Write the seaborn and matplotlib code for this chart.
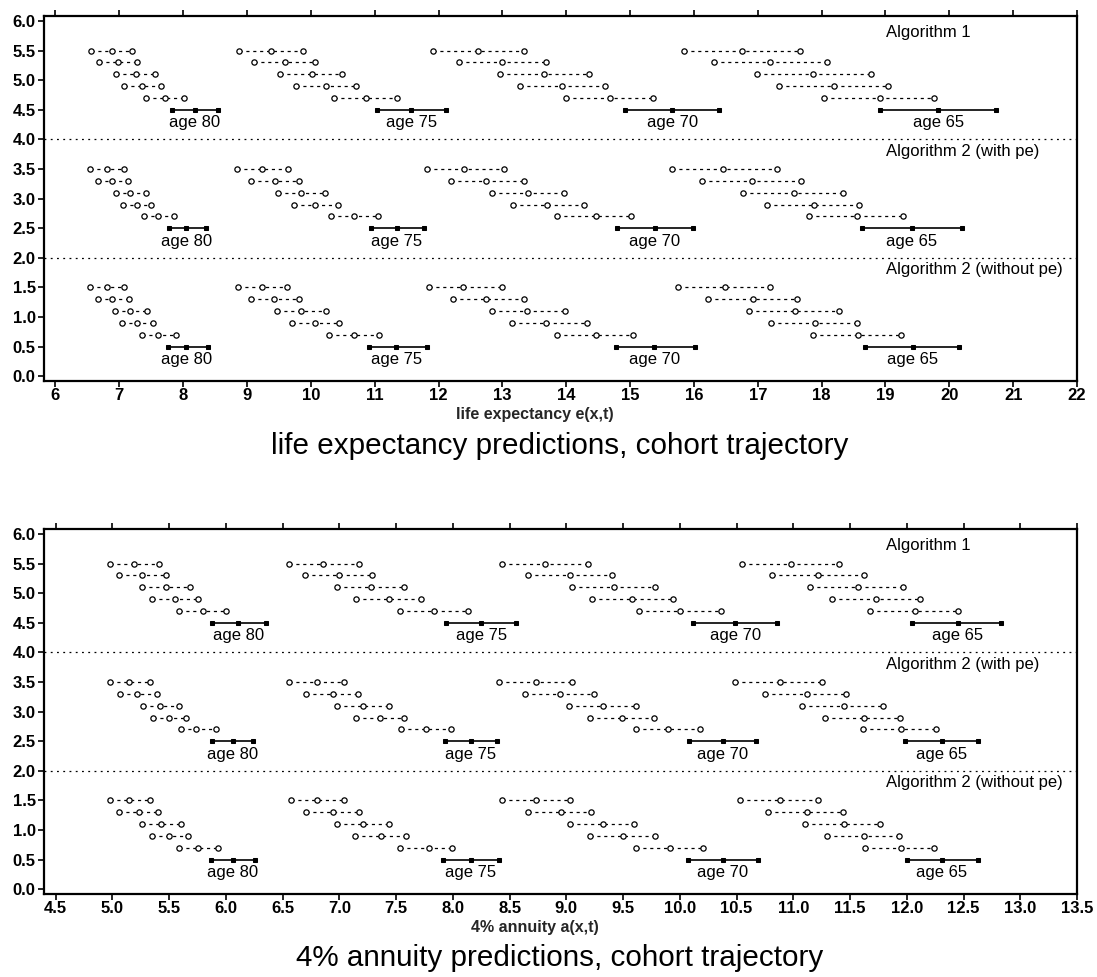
import numpy as np
import pandas as pd
import matplotlib
matplotlib.use("Agg")
import matplotlib.pyplot as plt
import matplotlib.transforms as mtransforms
import seaborn as sns

# ---------------- data ----------------
algorithms = ["Algorithm 1", "Algorithm 2 (with pe)", "Algorithm 2 (without pe)"]
ages = ["age 80", "age 75", "age 70", "age 65"]

# each block: 5 forecast rows (low, mid, high) followed by the current-year row
le_alg1 = [
    [(6.56, 6.88, 7.20), (6.68, 6.98, 7.28), (6.95, 7.26, 7.56), (7.07, 7.36, 7.65), (7.41, 7.72, 8.02), (7.83, 8.18, 8.55)],
    [(8.88, 9.37, 9.88), (9.11, 9.59, 10.07), (9.52, 10.01, 10.49), (9.77, 10.23, 10.71), (10.37, 10.86, 11.35), (11.03, 11.57, 12.12)],
    [(11.92, 12.62, 13.34), (12.32, 12.99, 13.68), (12.96, 13.65, 14.35), (13.28, 13.94, 14.60), (14.00, 14.69, 15.36), (14.92, 15.66, 16.40)],
    [(15.84, 16.75, 17.66), (16.32, 17.19, 18.09), (16.99, 17.87, 18.77), (17.34, 18.20, 19.04), (18.04, 18.91, 19.76), (18.92, 19.83, 20.73)],
]
le_alg2_pe = [
    [(6.54, 6.81, 7.07), (6.66, 6.89, 7.14), (6.94, 7.17, 7.42), (7.05, 7.28, 7.50), (7.38, 7.61, 7.86), (7.78, 8.05, 8.35)],
    [(8.84, 9.24, 9.64), (9.07, 9.44, 9.81), (9.48, 9.85, 10.22), (9.73, 10.07, 10.43), (10.31, 10.68, 11.05), (10.94, 11.35, 11.77)],
    [(11.82, 12.40, 13.02), (12.20, 12.75, 13.34), (12.84, 13.40, 13.97), (13.16, 13.70, 14.28), (13.85, 14.47, 15.02), (14.80, 15.39, 15.98)],
    [(15.65, 16.46, 17.30), (16.13, 16.91, 17.68), (16.77, 17.56, 18.34), (17.14, 17.88, 18.59), (17.81, 18.55, 19.28), (18.64, 19.41, 20.20)],
]
le_alg2_nope = [
    [(6.54, 6.81, 7.08), (6.66, 6.89, 7.15), (6.93, 7.17, 7.44), (7.04, 7.28, 7.52), (7.36, 7.61, 7.88), (7.76, 8.05, 8.39)],
    [(8.86, 9.24, 9.63), (9.07, 9.43, 9.82), (9.47, 9.85, 10.23), (9.71, 10.07, 10.44), (10.29, 10.67, 11.07), (10.91, 11.34, 11.82)],
    [(11.85, 12.39, 12.99), (12.23, 12.75, 13.34), (12.84, 13.39, 13.98), (13.15, 13.68, 14.32), (13.85, 14.47, 15.05), (14.78, 15.38, 16.01)],
    [(15.75, 16.48, 17.19), (16.22, 16.93, 17.61), (16.87, 17.58, 18.27), (17.21, 17.90, 18.55), (17.87, 18.57, 19.25), (18.68, 19.43, 20.15)],
]

an_alg1 = [
    [(4.98, 5.19, 5.41), (5.06, 5.26, 5.47), (5.26, 5.47, 5.68), (5.35, 5.55, 5.75), (5.59, 5.80, 6.00), (5.88, 6.11, 6.35)],
    [(6.56, 6.86, 7.17), (6.70, 7.00, 7.29), (6.98, 7.28, 7.57), (7.15, 7.44, 7.72), (7.53, 7.83, 8.13), (7.94, 8.25, 8.56)],
    [(8.43, 8.81, 9.19), (8.66, 9.03, 9.40), (9.05, 9.42, 9.78), (9.23, 9.58, 9.94), (9.64, 10.00, 10.36), (10.12, 10.49, 10.86)],
    [(10.55, 10.98, 11.40), (10.81, 11.22, 11.62), (11.15, 11.57, 11.97), (11.34, 11.73, 12.12), (11.68, 12.07, 12.45), (12.05, 12.45, 12.83)],
]
an_alg2_pe = [
    [(4.98, 5.15, 5.33), (5.07, 5.22, 5.39), (5.27, 5.42, 5.59), (5.36, 5.50, 5.65), (5.60, 5.74, 5.91), (5.88, 6.06, 6.24)],
    [(6.56, 6.80, 7.04), (6.71, 6.94, 7.16), (6.98, 7.21, 7.44), (7.15, 7.36, 7.57), (7.54, 7.76, 7.98), (7.93, 8.16, 8.39)],
    [(8.41, 8.73, 9.05), (8.64, 8.94, 9.24), (9.02, 9.32, 9.61), (9.21, 9.49, 9.77), (9.61, 9.90, 10.18), (10.08, 10.38, 10.67)],
    [(10.49, 10.88, 11.25), (10.75, 11.12, 11.46), (11.08, 11.45, 11.79), (11.28, 11.62, 11.94), (11.61, 11.95, 12.26), (11.98, 12.31, 12.63)],
]
an_alg2_nope = [
    [(4.98, 5.15, 5.33), (5.06, 5.23, 5.40), (5.26, 5.43, 5.60), (5.35, 5.50, 5.67), (5.59, 5.75, 5.93), (5.87, 6.06, 6.26)],
    [(6.57, 6.80, 7.04), (6.71, 6.94, 7.17), (6.98, 7.21, 7.44), (7.14, 7.37, 7.59), (7.53, 7.79, 7.99), (7.91, 8.16, 8.41)],
    [(8.43, 8.73, 9.03), (8.66, 8.95, 9.22), (9.03, 9.32, 9.60), (9.21, 9.50, 9.78), (9.61, 9.91, 10.20), (10.07, 10.38, 10.69)],
    [(10.53, 10.88, 11.22), (10.78, 11.12, 11.44), (11.10, 11.45, 11.76), (11.30, 11.62, 11.93), (11.63, 11.95, 12.24), (12.00, 12.31, 12.63)],
]

le_xticks = list(range(6, 23))
an_xticks = [4.5 + 0.5 * i for i in range(19)]
y_ticks = [0.5 * i for i in range(13)]

panels = [
    dict(blocks=[le_alg1, le_alg2_pe, le_alg2_nope], xticks=le_xticks, xfmt="{:.0f}",
         xlim=(5.82, 22.0), xlabel="life expectancy e(x,t)",
         title="life expectancy predictions, cohort trajectory"),
    dict(blocks=[an_alg1, an_alg2_pe, an_alg2_nope], xticks=an_xticks, xfmt="{:.1f}",
         xlim=(4.397, 13.5), xlabel="4% annuity a(x,t)",
         title="4% annuity predictions, cohort trajectory"),
]


def build_df(blocks_by_alg):
    recs = []
    for a, blocks in enumerate(blocks_by_alg):
        base = 5.5 - 2 * a
        for g, rows in enumerate(blocks):
            for r, triple in enumerate(rows):
                y = base - 0.2 * r
                kind = "current" if r == len(rows) - 1 else "forecast"
                for x in triple:
                    recs.append(dict(x=x, y=y, row=f"{a}-{g}-{r}", kind=kind, alg=a, age=g))
    return pd.DataFrame(recs)


# ---------------- drawing ----------------
sns.set_theme(style="ticks")
plt.rcParams["font.family"] = ["Liberation Sans", "DejaVu Sans"]

fig = plt.figure(figsize=(10.97, 9.77), dpi=100)
ax_rects = [(44 / 1097, 1 - 381 / 977, 1033 / 1097, 365 / 977),
            (44 / 1097, 1 - 894 / 977, 1033 / 1097, 365 / 977)]
title_y = [1 - 446 / 977, 1 - 958 / 977]

for p, (panel, rect) in enumerate(zip(panels, ax_rects)):
    ax = fig.add_axes(rect)
    df = build_df(panel["blocks"])
    fc = df[df["kind"] == "forecast"]
    cur = df[df["kind"] == "current"]

    sns.lineplot(data=fc, x="x", y="y", units="row", estimator=None, sort=False,
                 color="black", linewidth=0.9, linestyle=(0, (2.5, 3.0)),
                 marker="o", markersize=3.8, markerfacecolor="white",
                 markeredgecolor="black", markeredgewidth=0.9,
                 legend=False, ax=ax)
    sns.lineplot(data=cur, x="x", y="y", units="row", estimator=None, sort=False,
                 color="black", linewidth=1.2, marker="s", markersize=3.2,
                 markerfacecolor="black", markeredgecolor="black",
                 legend=False, ax=ax)

    # age labels under the current-year bar
    for (a, g), sub in cur.groupby(["alg", "age"]):
        xs = sorted(sub["x"].tolist())
        ax.text(xs[1], sub["y"].iloc[0] - 0.22, ages[g], ha="center", va="center",
                fontsize=12, color="black")

    # algorithm labels and separators
    trans = mtransforms.blended_transform_factory(ax.transAxes, ax.transData)
    for a, name in enumerate(algorithms):
        ax.text(0.815, 5.8 - 2 * a, name, transform=trans, ha="left", va="center",
                fontsize=12, color="black")
    for yy in (4.0, 2.0):
        ax.axhline(yy, color="black", linewidth=0.9, linestyle=(0, (1.5, 3.5)))

    ax.set_xlim(*panel["xlim"])
    ax.set_ylim(-0.08, 6.085)
    ax.set_xticks(panel["xticks"])
    ax.set_xticklabels([panel["xfmt"].format(v) for v in panel["xticks"]],
                       fontweight="bold", fontsize=12)
    ax.set_yticks(y_ticks)
    ax.set_yticklabels([f"{v:.1f}" for v in y_ticks], fontweight="bold", fontsize=12)
    ax.tick_params(axis="x", which="both", top=True, bottom=True, direction="out",
                   length=4, width=1.2, pad=1, colors="black")
    ax.tick_params(axis="y", which="both", left=True, right=False, direction="out",
                   length=4, width=1.2, pad=2, colors="black")
    for s in ax.spines.values():
        s.set_visible(True)
        s.set_linewidth(1.6)
        s.set_color("black")
    ax.grid(False)
    ax.set_ylabel("")
    ax.set_xlabel(panel["xlabel"], fontweight="bold", fontsize=11.5, labelpad=0)
    ax.xaxis.set_label_coords(0.475, -0.072)

    fig.text(0.51, title_y[p], panel["title"], ha="center", va="center", fontsize=21.3,
             color="black")

fig.savefig("out.png", dpi=100, facecolor="white")
